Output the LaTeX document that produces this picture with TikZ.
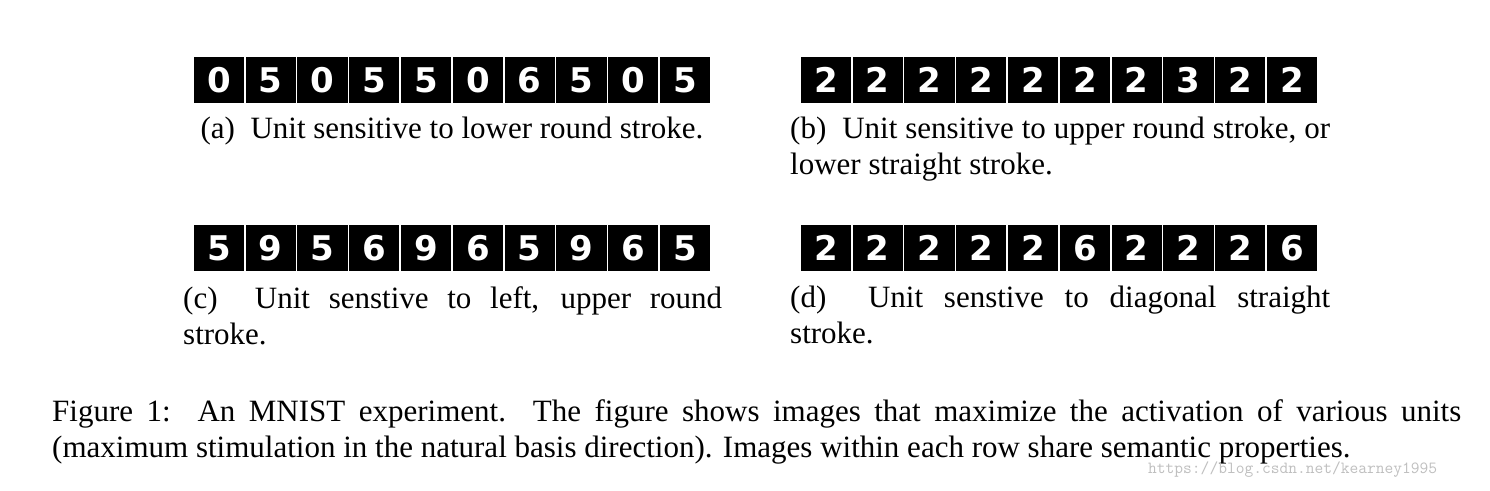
\documentclass[tikz,border=0pt]{standalone}
\usepackage{fontspec}
\setmainfont{Liberation Serif}
\newfontfamily\digitfont{DejaVu Sans}
\tikzset{
  cell/.style={fill=black,draw=white,line width=1.5pt,minimum width=51.8pt,minimum height=48pt,inner sep=0pt,text=white,font=\digitfont\bfseries\fontsize{34}{34}\selectfont},
  captext/.style={anchor=north west,inner sep=0pt,text width=540pt,align=justify,font=\fontsize{31}{36}\selectfont},
}
\begin{document}
\begin{tikzpicture}[x=1pt,y=-1pt]
\useasboundingbox[fill=white] (0,0) rectangle (1490,490);
\foreach \d [count=\i] in {0,5,0,5,5,0,6,5,0,5}
  \node[cell] (a\i) at (193+51.8*\i-25.9,80) {\d};
\foreach \d [count=\i] in {2,2,2,2,2,2,2,3,2,2}
  \node[cell] (b\i) at (800+51.8*\i-25.9,80) {\d};
\foreach \d [count=\i] in {5,9,5,6,9,6,5,9,6,5}
  \node[cell] (c\i) at (193+51.8*\i-25.9,248) {\d};
\foreach \d [count=\i] in {2,2,2,2,2,6,2,2,2,6}
  \node[cell] (d\i) at (800+51.8*\i-25.9,248) {\d};
\node[anchor=north,inner sep=0pt,font=\fontsize{31}{36}\selectfont] (capa) at (452,117) {(a)~~Unit sensitive to lower round stroke.};
\node[captext] (capb) at (790,117) {(b)~~Unit sensitive to upper round stroke, or\linebreak lower straight stroke.};
\node[captext,text width=539pt] (capc) at (183,286) {(c)~~Unit senstive to left, upper round\linebreak stroke.};
\node[captext] (capd) at (790,286) {(d)~~Unit senstive to diagonal straight\linebreak stroke.};
\node[captext,text width=1409pt] (fig) at (52,399) {Figure 1:~~An MNIST experiment.~~The figure shows images that maximize the activation of various units\linebreak (maximum stimulation in the natural basis direction). Images within each row share semantic properties.};
\node[anchor=west,inner sep=0pt,text=black!25,font=\ttfamily\fontsize{17}{17}\selectfont] (wm) at (1148,470) {https://blog.csdn.net/kearney1995};
\end{tikzpicture}
\end{document}
